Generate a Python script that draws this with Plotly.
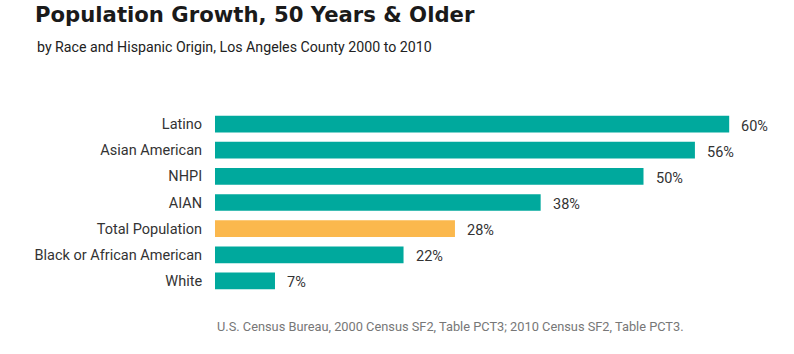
import plotly.graph_objects as go

categories = ["Latino", "Asian American", "NHPI", "AIAN", "Total Population",
              "Black or African American", "White"]
values = [60, 56, 50, 38, 28, 22, 7]
labels = ["60%", "56%", "50%", "38%", "28%", "22%", "7%"]
highlight = "Total Population"

TEAL = "#00A99D"
ORANGE = "#FBB84D"
colors = [ORANGE if c == highlight else TEAL for c in categories]

W, H = 794, 354
L, R, T, B = 215, 22, 111, 60
pw, ph = W - L - R, H - T - B

def px(x):
    return (x - L) / pw

def py(y):
    return (H - B - y) / ph

fig = go.Figure(go.Bar(
    x=values, y=categories, orientation="h",
    marker=dict(color=colors, line=dict(width=0)),
    hoverinfo="skip",
))

annotations = []
for c, v, lab in zip(categories, values, labels):
    annotations.append(dict(x=v, y=c, xref="x", yref="y", text=lab, showarrow=False,
                            xanchor="left", xshift=10, yshift=-2,
                            font=dict(family="Roboto", size=14.5, color="#333333")))

annotations.append(dict(x=px(35), y=py(37), xref="paper", yref="paper", xanchor="left", yanchor="top",
                        text="by Race and Hispanic Origin, Los Angeles County 2000 to 2010",
                        showarrow=False, font=dict(family="Roboto", size=14.2, color="#222222")))
annotations.append(dict(x=px(215), y=py(317), xref="paper", yref="paper", xanchor="left", yanchor="top",
                        text="U.S. Census Bureau, 2000 Census SF2, Table PCT3; 2010 Census SF2, Table PCT3.",
                        showarrow=False, font=dict(family="Roboto", size=12.8, color="#777777")))

fig.update_layout(
    width=W, height=H,
    margin=dict(l=L, r=R, t=T, b=B),
    paper_bgcolor="white", plot_bgcolor="white",
    bargap=0.36,
    showlegend=False,
    title=dict(text="<b>Population Growth, 50 Years &amp; Older</b>",
               x=35 / W, xanchor="left", xref="container",
               y=1 - 7 / H, yanchor="top", yref="container",
               font=dict(family="DejaVu Sans", size=21.2, color="#1a1a1a")),
    xaxis=dict(range=[0, pw / 8.57], visible=False, fixedrange=True),
    yaxis=dict(autorange="reversed", showgrid=False, showline=False, ticks="outside",
               ticklen=9, tickcolor="rgba(0,0,0,0)",
               tickfont=dict(family="Roboto", size=14.5, color="#333333"), fixedrange=True),
    annotations=annotations,
)

fig.write_html("out.html", config={"displayModeBar": False})
